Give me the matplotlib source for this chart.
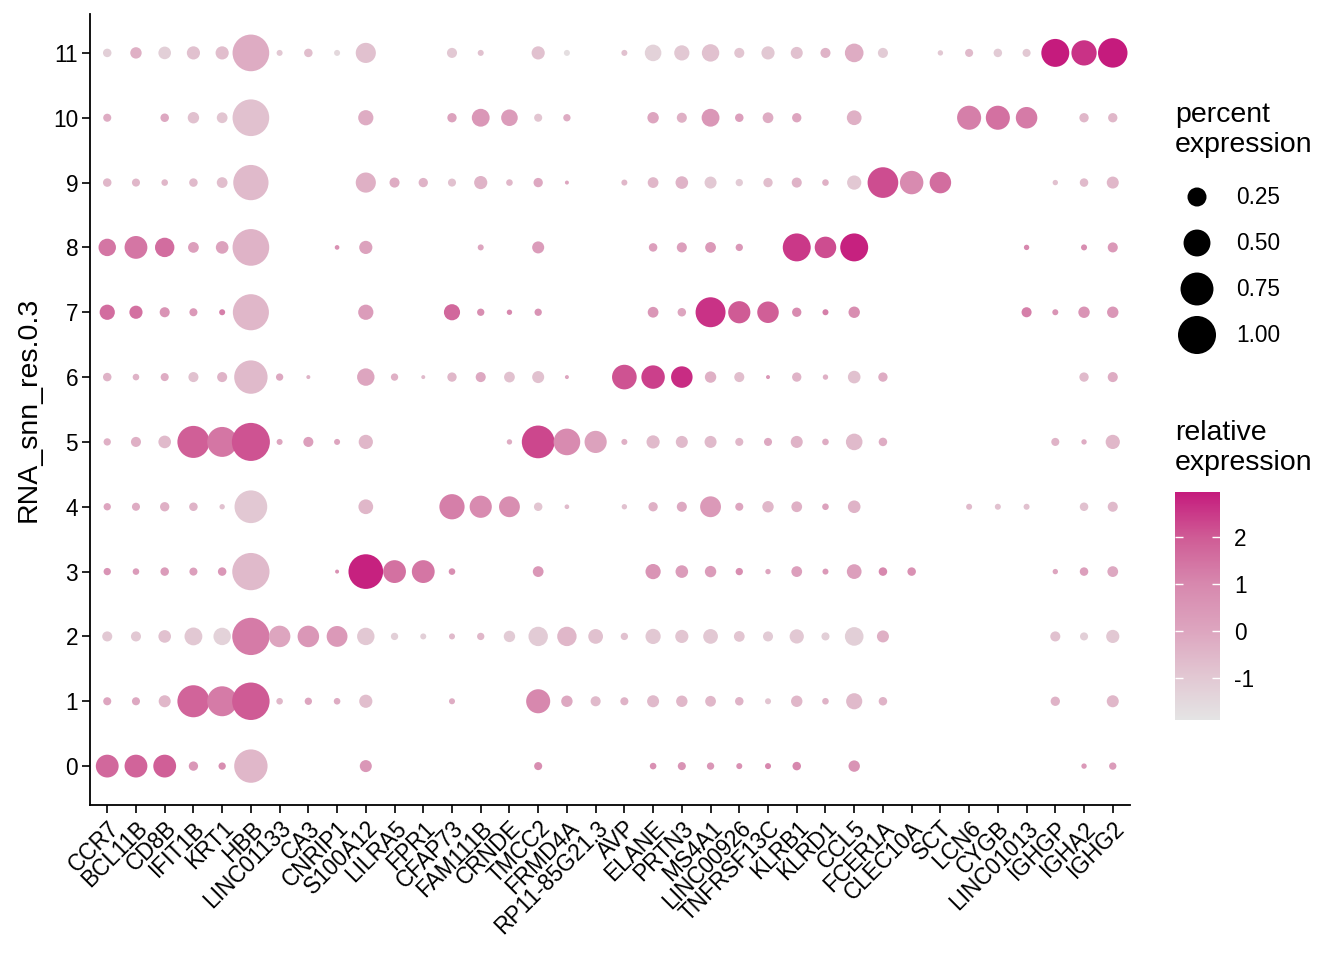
import matplotlib
matplotlib.use("Agg")
import matplotlib.pyplot as plt
import numpy as np
from matplotlib.colors import LinearSegmentedColormap

plt.rcParams["font.family"] = ["Liberation Sans", "DejaVu Sans"]
plt.rcParams["axes.unicode_minus"] = False

genes = ["CCR7", "BCL11B", "CD8B", "IFIT1B", "KRT1", "HBB", "LINC01133", "CA3",
         "CNRIP1", "S100A12", "LILRA5", "FPR1", "CFAP73", "FAM111B", "CRNDE",
         "TMCC2", "FRMD4A", "RP11-85G21.3", "AVP", "ELANE", "PRTN3", "MS4A1",
         "LINC00926", "TNFRSF13C", "KLRB1", "KLRD1", "CCL5", "FCER1A", "CLEC10A",
         "SCT", "LCN6", "CYGB", "LINC01013", "IGHGP", "IGHA2", "IGHG2"]
clusters = [str(i) for i in range(12)]

# percent of cells expressing (one row per cluster, 0 = not drawn)
pct = [
    [.36, .36, .36, .06, .037, .77, 0, 0, 0, .10, 0, 0, 0, 0, 0, .045, 0, 0, 0, .03, .045, .037, .025, .025, .05, 0, .09, 0, 0, 0, 0, 0, 0, 0, .02, .037],
    [.045, .045, .10, .71, .62, .97, .03, .037, .03, .12, 0, 0, .025, 0, 0, .40, .09, .07, .045, .10, .09, .08, .05, .025, .09, .03, .18, .05, 0, 0, 0, 0, 0, .06, 0, .10],
    [.07, .07, .11, .22, .21, .96, .32, .32, .30, .21, .037, .025, .025, .037, .09, .26, .26, .15, .037, .16, .12, .15, .08, .07, .14, .045, .24, .10, 0, 0, 0, 0, 0, .07, .045, .12],
    [.037, .03, .05, .045, .05, .96, 0, 0, .011, .83, .36, .36, .03, 0, 0, .08, 0, 0, 0, .16, .11, .09, .037, .02, .08, .025, .15, .05, .05, 0, 0, 0, 0, .02, .05, .08],
    [.037, .045, .06, .05, .02, .74, 0, 0, 0, .15, 0, 0, .44, .34, .30, .05, .015, 0, .02, .06, .07, .30, .045, .09, .08, .03, .11, 0, 0, 0, .025, .025, .025, 0, .05, .07],
    [.037, .07, .11, .71, .62, 1.0, .025, .07, .025, .14, 0, 0, 0, 0, .02, .74, .49, .34, .025, .12, .10, .10, .045, .045, .10, .03, .19, .05, 0, 0, 0, 0, 0, .045, .02, .14],
    [.05, .03, .045, .07, .07, .77, .037, .011, 0, .21, .037, .011, .06, .07, .08, .10, .011, 0, .42, .38, .32, .09, .07, .011, .06, .02, .11, .06, 0, 0, 0, 0, 0, 0, .06, .07],
    [.16, .12, .07, .045, .025, .90, 0, 0, 0, .16, 0, 0, .18, .037, .02, .037, 0, 0, 0, .08, .05, .62, .34, .32, .06, .025, .09, 0, 0, 0, 0, 0, .07, .025, .09, .09],
    [.21, .36, .26, .08, .11, .93, 0, 0, .015, .12, 0, 0, 0, .025, 0, .10, 0, 0, 0, .05, .07, .08, .037, 0, .54, .32, .54, 0, 0, 0, 0, 0, .02, 0, .025, .07],
    [.05, .045, .03, .05, .08, .86, 0, 0, 0, .28, .07, .06, .045, .12, .03, .06, .011, 0, .025, .08, .11, .10, .037, .06, .07, .03, .14, .65, .38, .32, 0, 0, 0, .02, .05, .10],
    [.045, 0, .05, .09, .08, .93, 0, 0, 0, .16, 0, 0, .06, .22, .19, .045, .037, 0, 0, .09, .07, .22, .05, .08, .06, 0, .15, 0, 0, 0, .40, .40, .32, 0, .06, .06],
    [.05, .09, .11, .12, .12, .93, .025, .05, .025, .28, 0, 0, .07, .025, 0, .12, .025, 0, .025, .19, .16, .21, .07, .12, .10, .07, .24, .07, 0, .02, .045, .05, .045, .54, .44, .60],
]

# scaled average expression
avg = [
    [1.7, 1.8, 1.9, 0.5, 0.8, -0.5, 0, 0, 0, 0.5, 0, 0, 0, 0, 0, 0.8, 0, 0, 0, 0.7, 0.6, 0.5, 0.7, 1.0, 1.0, 0, 0.6, 0, 0, 0, 0, 0, 0, 0, 0.4, 0.3],
    [0.0, -0.1, -0.5, 1.8, 1.3, 2.0, -0.5, 0.0, -0.2, -0.7, 0, 0, -0.2, 0, 0, 1.0, -0.1, -0.6, -0.4, -0.6, -0.5, -0.5, -0.4, -0.9, -0.5, -0.4, -0.6, -0.4, 0, 0, 0, 0, 0, -0.4, 0, -0.5],
    [-1.0, -1.0, -0.8, -1.0, -1.3, 1.3, 0.0, 0.5, 0.4, -1.0, -1.2, -1.2, -0.6, -0.5, -1.1, -1.1, -0.5, -0.8, -0.8, -1.0, -0.9, -1.0, -0.9, -1.1, -1.0, -1.2, -1.2, -0.3, 0, 0, 0, 0, 0, -0.8, -1.2, -1.0],
    [0.6, 0.3, 0.3, 0.2, 0.5, -0.6, 0, 0, 0.7, 2.85, 1.5, 1.4, 0.8, 0, 0, 0.5, 0, 0, 0, 0.6, 0.3, 0.3, 0.8, 0.0, 0.2, 0.4, 0.2, 1.0, 0.7, 0, 0, 0, 0, 0.0, 0.2, -0.1],
    [0.0, -0.2, -0.3, -0.4, -0.8, -1.0, 0, 0, 0, -0.5, 0, 0, 1.2, 0.9, 0.8, -0.9, -0.6, 0, -0.8, -0.3, -0.1, 0.4, 0.0, -0.5, -0.3, 0.1, -0.4, 0, 0, 0, -0.6, -0.8, -0.8, 0, -0.8, -0.6],
    [-0.3, -0.3, -0.6, 1.9, 1.4, 2.1, 0.0, 0.2, 0.0, -0.5, 0, 0, 0, 0, -0.2, 2.3, 0.9, 0.1, -0.3, -0.6, -0.6, -0.6, -0.5, -0.1, -0.4, -0.2, -0.6, -0.2, 0, 0, 0, 0, 0, -0.4, -0.2, -0.5],
    [-0.4, -0.4, -0.2, -0.8, -0.4, -0.6, -0.1, -0.4, 0, 0.0, -0.3, -0.6, -0.5, -0.1, -0.8, -0.8, 0.0, 0, 2.1, 2.4, 2.7, -0.3, -0.7, 0.5, -0.4, -0.3, -0.8, -0.2, 0, 0, 0, 0, 0, 0, -0.6, -0.2],
    [1.6, 1.5, 0.6, 0.4, 1.2, -0.5, 0, 0, 0, 0.3, 0, 0, 1.7, 0.8, 1.0, 0.6, 0, 0, 0, 0.5, 0.0, 2.6, 2.0, 1.9, 0.9, 1.2, 0.8, 0, 0, 0, 0, 0, 1.2, 0.6, 0.6, 0.5],
    [1.4, 1.4, 1.6, 0.2, 0.1, -0.4, 0, 0, 0.7, 0.1, 0, 0, 0, 0.0, 0, 0.3, 0, 0, 0, 0.2, 0.2, 0.4, 0.5, 0, 2.5, 2.2, 2.85, 0, 0, 0, 0, 0, 1.0, 0, 0.8, 0.4],
    [-0.5, -0.5, -0.5, -0.6, -0.7, -0.6, 0, 0, 0, -0.3, -0.2, -0.4, -0.8, -0.4, -0.5, -0.1, 0.0, 0, -0.5, -0.5, -0.4, -1.0, -1.1, -0.7, -0.4, -0.3, -1.0, 2.2, 0.9, 1.6, 0, 0, 0, -0.8, -0.6, -0.5],
    [-0.2, 0, -0.1, -0.8, -0.9, -0.8, 0, 0, 0, -0.2, 0, 0, 0.1, 0.5, 0.3, -0.9, -0.2, 0, 0, 0.0, -0.3, 0.5, 0.2, -0.2, 0.0, 0, -0.3, 0, 0, 0, 1.2, 1.5, 1.3, 0, -0.5, -0.5],
    [-1.2, -0.3, -1.2, -0.8, -0.7, -0.2, -1.0, -0.7, -1.5, -0.8, 0, 0, -1.0, -0.8, 0, -0.8, -1.7, 0, -0.8, -1.3, -1.0, -0.8, -0.9, -1.0, -0.8, -0.4, -0.2, -1.1, 0, -1.0, -0.6, -1.1, -1.0, 2.95, 2.6, 2.95],
]

size_breaks = [0.25, 0.50, 0.75, 1.00]
cbar_ticks = [-1, 0, 1, 2]

vmin, vmax = -1.9, 2.95
stops = [(-1.9, "#E4E4E4"), (-1.0, "#E2C8D3"), (0.0, "#DDA5BF"),
         (1.0, "#D788AE"), (2.0, "#CF5B95"), (2.95, "#C51B7D")]
cmap = LinearSegmentedColormap.from_list(
    "pinkgrey", [((v - vmin) / (vmax - vmin), c) for v, c in stops])

S_FULL = 750  # marker area (pt^2) for 100 percent


def area(p):
    return S_FULL * np.asarray(p)


pct_a = np.array(pct)
avg_a = np.array(avg)
yy, xx = np.nonzero(pct_a > 0)

fig = plt.figure(figsize=(13.44, 9.6), dpi=100)
ax = fig.add_axes([90 / 1344, 1 - 805 / 960, 1040 / 1344, 791 / 960])
sc = ax.scatter(xx, yy, s=area(pct_a[yy, xx]), c=avg_a[yy, xx], cmap=cmap,
                vmin=vmin, vmax=vmax, edgecolors="none", zorder=3)

ax.set_xlim(-0.6, len(genes) - 0.4)
ax.set_ylim(-0.6, len(clusters) - 0.4)
ax.set_xticks(range(len(genes)))
ax.set_xticklabels(genes, rotation=45, ha="right", rotation_mode="anchor", fontsize=16.3)
ax.set_yticks(range(len(clusters)))
ax.set_yticklabels(clusters, fontsize=16.3)
ax.tick_params(length=5.5, width=1.2, color="black", pad=3)
for side in ["top", "right"]:
    ax.spines[side].set_visible(False)
for side in ["left", "bottom"]:
    ax.spines[side].set_linewidth(1.3)
ax.set_ylabel("RNA_snn_res.0.3", fontsize=20.5, labelpad=8)

# colour bar
cax = fig.add_axes([1175 / 1344, 1 - 720 / 960, 45 / 1344, 228 / 960])
cb = fig.colorbar(sc, cax=cax)
cb.outline.set_visible(False)
cb.set_ticks(cbar_ticks)
cax.tick_params(which="major", left=True, right=True, direction="in",
                color="white", length=6, width=1, labelsize=16.3, pad=10)
cax.tick_params(which="minor", left=False, right=False)
fig.text(1175 / 1344, 1 - 448 / 960, "relative\nexpression", fontsize=20.5,
         va="center", ha="left", linespacing=1.22)

# size legend
lax = fig.add_axes([1175 / 1344, 1 - 360 / 960, 169 / 1344, 185 / 960])
lax.set_xlim(0, 169)
lax.set_ylim(360, 175)
lax.axis("off")
ly = [197 + 46 * i for i in range(len(size_breaks))]
lax.scatter([22] * len(size_breaks), ly, s=area(size_breaks), color="black",
            edgecolors="none", clip_on=False)
for b, y in zip(size_breaks, ly):
    lax.text(61, y, f"{b:.2f}", fontsize=16.3, va="center", ha="left")
fig.text(1175 / 1344, 1 - 130 / 960, "percent\nexpression", fontsize=20.5,
         va="center", ha="left", linespacing=1.22)

fig.savefig("out.png", dpi=100)
